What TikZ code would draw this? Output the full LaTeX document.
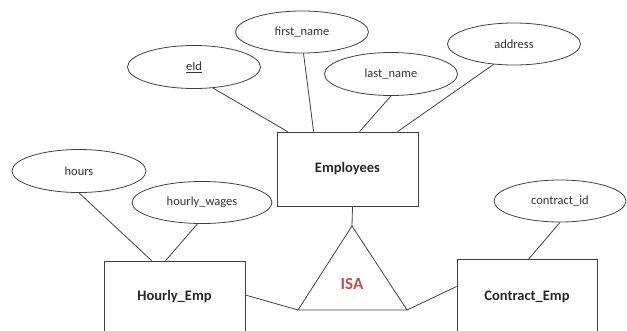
\documentclass[tikz,border=0pt]{standalone}
\usepackage{fontspec}
\setmainfont{Carlito}
\usetikzlibrary{shapes.geometric}
\definecolor{isared}{HTML}{C0504D}
\definecolor{linegray}{HTML}{404040}
\begin{document}
\begin{tikzpicture}[x=1pt,y=-1pt,
	attr/.style={draw=linegray,line width=0.8pt,ellipse,minimum width=133pt,minimum height=42pt,inner sep=0pt,font=\fontsize{12.5}{14}\selectfont,text=black!80},
	entity/.style={draw=linegray,line width=0.8pt,rectangle,minimum width=141pt,minimum height=74pt,inner sep=0pt,font=\fontsize{14.5}{17}\selectfont\bfseries,text=black!85},
	link/.style={draw=linegray,line width=0.8pt}]
					% Page frame
					\useasboundingbox (0,0) rectangle (627,330);
					\clip (0,0) rectangle (627,330);
					% Entities
					\node[entity] (emp) at (347.5,169) {Employees};
					\node[entity,minimum height=72pt] (hourly) at (174.5,297) {Hourly\_Emp};
					\node[entity,minimum width=140pt] (contract) at (527,296.5) {Contract\_Emp};
					% Attributes
					\node[attr,minimum height=43pt] (eid) at (194,67) {\underline{eId}};
					\node[attr] (first) at (302,32) {first\_name};
					\node[attr,minimum height=43pt] (last) at (391,74) {last\_name};
					\node[attr] (addr) at (514,44) {address};
					\node[attr,minimum width=134pt,minimum height=43pt] (hours) at (79,171) {hours};
					\node[attr,minimum width=140pt] (wages) at (202,202.5) {hourly\_wages};
					\node[attr,minimum width=132pt] (cid) at (560,201) {contract\_id};
					% ISA triangle
					\coordinate (apex) at (352,226);
					\coordinate (isaleft) at (298,310);
					\coordinate (isaright) at (407,310);
					\draw[link] (apex) -- (isaleft) -- (isaright) -- cycle;
					\node[text=isared,font=\fontsize{17}{20}\selectfont\bfseries] (isa) at (352,284) {ISA};
					% Attribute links
					\draw[link] (eid.-48) -- ([xshift=11]emp.north west);
					\draw[link] (first.-86) -- ([xshift=37]emp.north west);
					\draw[link] (last.south) -- ([xshift=83]emp.north west);
					\draw[link] (addr.-135) -- ([xshift=121]emp.north west);
					\draw[link] (hours.south) -- ([xshift=48]hourly.north west);
					\draw[link] (wages.-102) -- ([xshift=62]hourly.north west);
					\draw[link] (cid.south) -- ([xshift=72]contract.north west);
					% ISA links
					\draw[link] ([xshift=5]emp.south) -- (apex);
					\draw[link] ([yshift=2]hourly.east) -- (isaleft);
					\draw[link] ([yshift=10]contract.west) -- (isaright);
				\end{tikzpicture}
\end{document}
